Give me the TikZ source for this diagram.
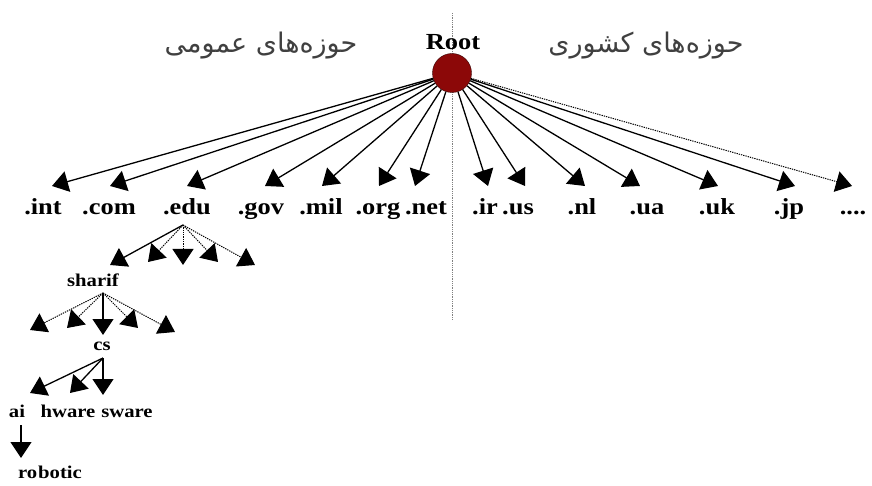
\documentclass[tikz,border=0pt]{standalone}
\usepackage{fontspec}
\setmainfont{Liberation Serif}
\newfontfamily\farsi[Script=Arabic]{DejaVu Sans}
\newfontfamily\lblfont[FakeStretch=1.15]{Liberation Serif}
\TeXXeTstate=1
\usetikzlibrary{arrows.meta}
\definecolor{rootred}{RGB}{140,8,8}

\begin{document}
\begin{tikzpicture}[x=1pt,y=-1pt,
big/.style={font=\lblfont\bfseries\fontsize{23}{25}\selectfont,inner sep=0pt,anchor=base},
small/.style={font=\lblfont\bfseries\fontsize{18}{20}\selectfont,inner sep=0pt,anchor=base},
zone/.style={font=\farsi\fontsize{27}{30}\selectfont,text=black!75,inner sep=0pt},
arr/.style={-{Triangle[length=16pt,width=21pt]},line width=1.3pt},
dots/.style={arr,densely dotted,line width=1pt}]
\useasboundingbox[fill=white] (0,0) rectangle (872,486);
\draw[gray,densely dotted,line width=0.8pt] (452,13) -- (452,320);
\node[circle,fill=rootred,draw=black!60!rootred,minimum size=39pt,inner sep=0pt] (root) at (452,73) {};
\node[big] (roottxt) at (453,50) {Root};
\node[zone] (general) at (261,46) {\beginR حوزه‌های عمومی\endR};
\node[zone] (country) at (646,46) {\beginR حوزه‌های کشوری\endR};
% top level domains
\foreach \n/\t/\x/\dx in {int/.int/43/9,com/.com/109/1,edu/.edu/187/0,gov/.gov/261/4,
mil/.mil/321/1,org/.org/378/1,net/.net/426/-11,ir/.ir/485/3,us/.us/518/7,
nl/.nl/582/3,ua/.ua/647/-7,uk/.uk/717/1,jp/.jp/789/6}{
\node[big] (\n) at (\x,215) {\t};
\draw[arr] (root) -- ([shift={(\dx,-29)}]\n.base);
}
\node[big] (more) at (853,215) {....};
\draw[dots] (root) -- ([shift={(-1,-29)}]more.base);
% edu
\coordinate (edufan) at ([shift={(-4,10)}]edu.base);
\node[small] (sharif) at (93,287) {sharif};
\draw[arr] (edufan) -- ([shift={(17,-22)}]sharif.base);
\foreach \i/\x/\y in {1/148/262,2/183/265,3/218/262,4/255/265}{
\coordinate (edu\i) at (\x,\y);
\draw[dots] (edufan) -- (edu\i);
}
% sharif
\coordinate (sharifan) at ([shift={(10,6)}]sharif.base);
\node[small] (cs) at (102,350) {cs};
\draw[arr] (sharifan) -- ([shift={(1,-15)}]cs.base);
\foreach \i/\x/\y in {1/30/330,2/67/328,3/138/328,4/175/332}{
\coordinate (sh\i) at (\x,\y);
\draw[dots] (sharifan) -- (sh\i);
}
% cs
\coordinate (csfan) at ([shift={(1,8)}]cs.base);
\node[small] (ai) at (17,417) {ai};
\node[small] (hware) at (68,417) {hware};
\node[small] (sware) at (127,417) {sware};
\draw[arr] (csfan) -- ([shift={(13,-24)}]ai.base);
\draw[arr] (csfan) -- ([shift={(2,-24)}]hware.base);
\draw[arr] (csfan) -- ([shift={(-24,-22)}]sware.base);
\node[small] (robotic) at (50,478) {ro\kern1pt botic};
\draw[arr] ([shift={(4,8)}]ai.base) -- ([shift={(-29,-20)}]robotic.base);
\end{tikzpicture}
\end{document}
